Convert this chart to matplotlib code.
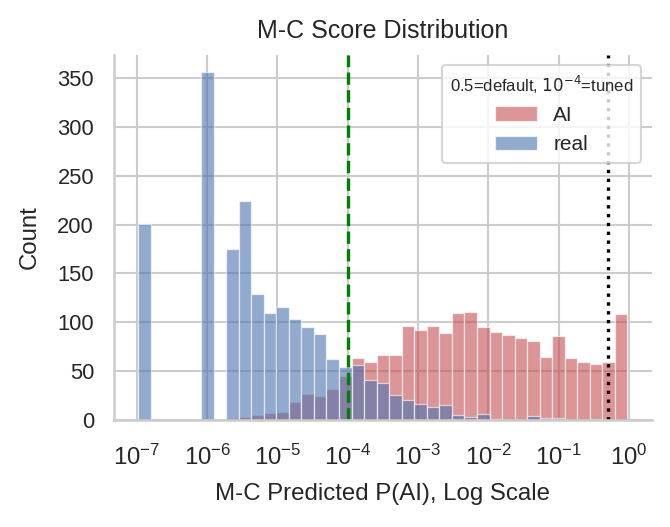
import numpy as np
import matplotlib
matplotlib.use("Agg")
import matplotlib.pyplot as plt
import seaborn as sns

# ---- data (log10 bin edges, counts per bin) ----
log_lo, log_hi, n_bins = -6.98, -0.02, 39
ai_counts = [0, 0, 0, 0, 0, 0, 0, 2, 3, 5, 7, 8, 18, 27, 25, 32, 45, 63, 59, 67,
             67, 96, 92, 96, 89, 110, 111, 95, 90, 87, 84, 81, 65, 86, 63, 59, 57, 59, 109]
real_counts = [201, 0, 0, 0, 0, 356, 0, 175, 224, 129, 110, 116, 103, 95, 88, 62, 54, 56, 41, 38,
               26, 20, 16, 13, 15, 5, 3, 6, 1, 0, 0, 4, 2, 2, 0, 0, 1, 0, 0]
series_names = ["AI", "real"]
tuned_threshold = 1e-4
default_threshold = 0.5
yticks = [0, 50, 100, 150, 200, 250, 300, 350]
xticks = [1e-7, 1e-6, 1e-5, 1e-4, 1e-3, 1e-2, 1e-1, 1e0]

sns.set_theme(style="whitegrid")
plt.rcParams['font.family'] = ['Liberation Sans', 'DejaVu Sans']

fig = plt.figure(figsize=(670/150, 527/150), dpi=150)
ax = fig.add_axes([0.170, 0.203, 0.803, 0.693])
ax.set_xscale("log")

edges = 10 ** np.linspace(log_lo, log_hi, n_bins + 1)
widths = np.diff(edges)
colors = {"AI": sns.color_palette("deep")[3], "real": sns.color_palette("deep")[0]}

for name, counts in zip(series_names, [ai_counts, real_counts]):
    ax.bar(edges[:-1], counts, width=widths, align="edge", color=colors[name],
           alpha=0.6, edgecolor="white", linewidth=0.6, label=name)

ax.axvline(tuned_threshold, color="green", linestyle="--", linewidth=1.6)
ax.axvline(default_threshold, color="black", linestyle=":", linewidth=1.6)

ax.set_yticks(yticks)
ax.set_xticks(xticks)
ax.xaxis.set_minor_locator(matplotlib.ticker.NullLocator())
ax.tick_params(axis="y", labelsize=10.5)
ax.tick_params(axis="x", labelsize=11.5, pad=6)
ax.set_xlabel("M-C Predicted P(AI), Log Scale", fontsize=11.5, labelpad=6)
ax.set_ylabel("Count", fontsize=11.5, labelpad=8)
ax.set_title("M-C Score Distribution", fontsize=12, pad=8)
sns.despine(ax=ax)

leg = ax.legend(title=r"0.5=default, $10^{-4}$=tuned", loc="upper right",
                fontsize=10, title_fontsize=8)

fig.savefig("out.png", dpi=150)
